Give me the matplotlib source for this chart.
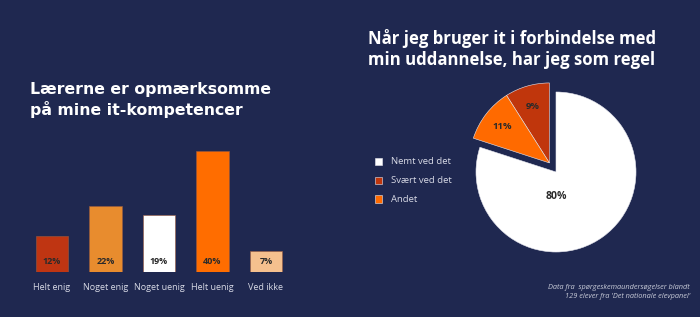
import matplotlib
matplotlib.use("Agg")
import matplotlib.pyplot as plt
import numpy as np

BG = "#1f2850"

bar_categories = ["Helt enig", "Noget enig", "Noget uenig", "Helt uenig", "Ved ikke"]
bar_values = [12, 22, 19, 40, 7]
bar_colors = ["#bf3512", "#e88c2e", "#ffffff", "#ff6d00", "#f5c08e"]

pie_labels = ["Svært ved det", "Andet", "Nemt ved det"]
pie_values = [9, 11, 80]
pie_colors = ["#c0360c", "#ff6a00", "#ffffff"]
legend_order = ["Nemt ved det", "Svært ved det", "Andet"]

bar_title = "Lærerne er opmærksomme\npå mine it-kompetencer"
pie_title = "Når jeg bruger it i forbindelse med\nmin uddannelse, har jeg som regel"
footnote = "Data fra  spørgeskemaundersøgelser blandt\n129 elever fra 'Det nationale elevpanel'"

plt.rcParams['font.family'] = ['Open Sans', 'DejaVu Sans']

W, H = 700, 317
fig = plt.figure(figsize=(W / 100, H / 100), dpi=100, facecolor=BG)

# ---- Bar chart
axb = fig.add_axes([25.25 / W, 45 / H, 267.5 / W, 136 / H])
axb.set_facecolor(BG)
x = np.arange(len(bar_values))
bars = axb.bar(x, bar_values, width=0.6, color=bar_colors, edgecolor="#9a5a40", linewidth=0.4)
axb.set_xlim(-0.5, len(bar_values) - 0.5)
axb.set_ylim(0, 45)
for xi, v in zip(x, bar_values):
    axb.text(xi, 3.6, f"{v}%", ha="center", va="center", fontsize=6.5,
             fontweight="bold", color="#2a2a2a")
axb.set_xticks(x)
axb.set_xticklabels(bar_categories, fontsize=6.5, color="#d8dae6")
axb.tick_params(axis="x", length=0, pad=8)
axb.set_yticks([])
for s in axb.spines.values():
    s.set_visible(False)

fig.text(30 / W, 1 - 82 / H, bar_title, ha="left", va="top", fontsize=11.3,
         fontweight="bold", color="white", linespacing=1.3,
         family=["DejaVu Sans"])

# ---- Pie chart
axp = fig.add_axes([456 / W, 45 / H, 200 / W, 200 / H])
axp.set_facecolor(BG)
wedges, texts, autotexts = axp.pie(pie_values, colors=pie_colors, startangle=90,
                                   counterclock=True, autopct="%d%%", pctdistance=0.74,
                                   wedgeprops=dict(edgecolor="#e8e8f0", linewidth=0.4),
                                   textprops=dict(fontsize=6.8, fontweight="bold", color="#2a2a2a"))
ang = np.deg2rad(126)
off = np.array([np.cos(ang), np.sin(ang)]) * 0.14
for i in (0, 1):
    wedges[i].set_center(tuple(off))
    px, py = autotexts[i].get_position()
    autotexts[i].set_position((px + off[0], py + off[1]))
autotexts[2].set_position((0, -0.31))
autotexts[2].set_fontsize(7.5)
axp.set_xlim(-1.25, 1.25)
axp.set_ylim(-1.25, 1.25)
axp.set_aspect("equal")
axp.axis("off")

fig.text(368 / W, 1 - 29 / H, pie_title, ha="left", va="top", fontsize=12.1,
         fontweight="bold", color="white", linespacing=1.18)

handles = [wedges[pie_labels.index(l)] for l in legend_order]
leg = fig.legend(handles, legend_order, loc="upper left",
                 bbox_to_anchor=(366 / W, 1 - 149 / H), frameon=False,
                 fontsize=6.8, labelcolor="#d8dae6", handlelength=0.8, handleheight=0.8,
                 labelspacing=1.05, handletextpad=0.9)

fig.text(690 / W, 1 - 292 / H, footnote, ha="right", va="center", fontsize=5.3,
         style="italic", color="#c8cbd8", linespacing=1.35)

fig.savefig("out.png", dpi=100, facecolor=BG)
